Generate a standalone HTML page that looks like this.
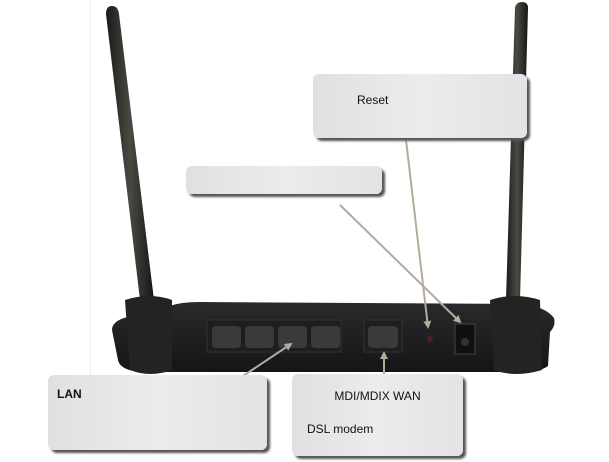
<!DOCTYPE html>
<html><head><meta charset="utf-8"><style>
html,body{margin:0;padding:0;background:#fff;width:609px;height:462px;overflow:hidden;font-family:"Liberation Sans",sans-serif;}
.box{position:absolute;border-radius:6px;background:linear-gradient(90deg,#dfe0e2,#ebecee 50%,#e2e3e5);box-shadow:3px 3px 2px #555;font-size:12px;color:#111;}
</style></head><body>
<svg width="609" height="462" style="position:absolute;left:0;top:0">
<defs>
<linearGradient id="ant" x1="0" x2="1"><stop offset="0" stop-color="#1a1a18"/><stop offset="0.5" stop-color="#4a4a44"/><stop offset="1" stop-color="#151513"/></linearGradient>
<linearGradient id="body" x1="0" y1="0" x2="0" y2="1"><stop offset="0" stop-color="#2a2a2c"/><stop offset="1" stop-color="#151517"/></linearGradient>
<marker id="ah" markerWidth="8" markerHeight="8" refX="6" refY="4" orient="auto" markerUnits="userSpaceOnUse"><path d="M0,0 L8,4 L0,8 Z" fill="#b4ab9b"/></marker>
</defs>
<line x1="90.5" y1="0" x2="90.5" y2="378" stroke="#eee"/>
<!-- router body -->
<path d="M112,330 Q112,322 124,318 L170,306 Q180,302 200,302 L520,304 Q545,306 554,318 Q556,326 550,332 L548,366 Q540,372 520,372 L140,372 Q120,370 118,360 Z" fill="url(#body)"/>
<rect x="207" y="320" width="134" height="32" fill="#1e1e20" stroke="#333"/>
<g fill="#3a3a3c">
<rect x="212" y="326" width="29" height="22" rx="4"/><rect x="245" y="326" width="29" height="22" rx="4"/><rect x="278" y="326" width="29" height="22" rx="4"/><rect x="311" y="326" width="29" height="22" rx="4"/>
<rect x="364" y="320" width="38" height="32" fill="#1e1e20" stroke="#333"/>
<rect x="368" y="326" width="30" height="22" rx="4"/>
</g>
<circle cx="430" cy="339" r="3" fill="#4a2020"/>
<rect x="455" y="324" width="20" height="30" fill="#101010" stroke="#444"/>
<circle cx="465" cy="342" r="4" fill="#333"/>
<!-- antennas -->
<path d="M106,14 Q106,6 112,6 Q118,6 119,14 L154,300 L140,300 Z" fill="url(#ant)"/>
<path d="M125,300 Q150,292 172,300 L172,370 Q150,378 130,370 Z" fill="#232321"/>
<path d="M515,8 Q516,2 522,2 Q528,2 528,8 L520,300 L506,300 Z" fill="url(#ant)"/>
<path d="M490,300 Q515,292 540,300 L542,370 Q515,378 494,370 Z" fill="#232321"/>
<!-- connectors -->
<g stroke="#b4ab9b" stroke-width="2" fill="none">
<line x1="406" y1="140" x2="428" y2="327" marker-end="url(#ah)"/>
<line x1="340" y1="205" x2="460" y2="322" marker-end="url(#ah)"/>
<line x1="240" y1="378" x2="291" y2="344" marker-end="url(#ah)"/>
<line x1="384" y1="374" x2="384" y2="353" marker-end="url(#ah)"/>
</g>
</svg>
<div class="box" style="left:313px;top:74px;width:214px;height:64px;"><span style="position:absolute;left:44px;top:19px">Reset</span></div>
<div class="box" style="left:186px;top:166px;width:196px;height:28px;"></div>
<div class="box" style="left:48px;top:375px;width:219px;height:75px;"><b style="position:absolute;left:9px;top:12px">LAN</b></div>
<div class="box" style="left:292px;top:374px;width:171px;height:82px;"><span style="position:absolute;left:0;width:171px;text-align:center;top:15px">MDI/MDIX WAN</span><span style="position:absolute;left:15px;top:48px">DSL modem</span></div>
</body></html>
